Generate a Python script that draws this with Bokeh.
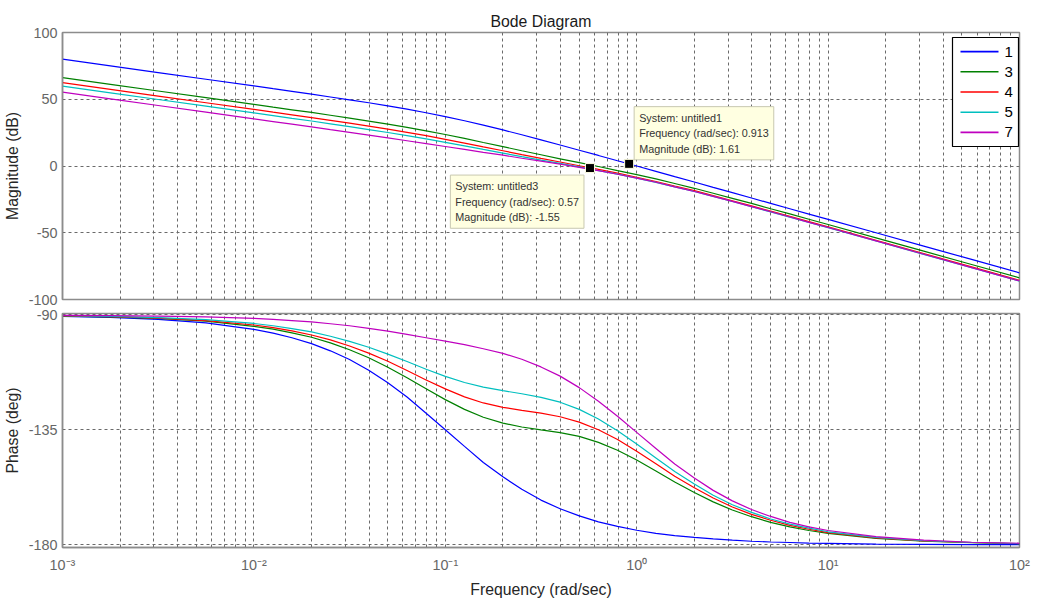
from bokeh.plotting import figure
from bokeh.layouts import column
from bokeh.models import (FixedTicker, CustomJSTickFormatter, Label, Range1d, Title,
                          BoxAnnotation)
from bokeh.embed import file_html
from bokeh.resources import INLINE

# ---------------- data ----------------
freq = [0.001, 0.00178, 0.00316, 0.00562, 0.01, 0.0126, 0.0158, 0.02, 0.0251, 0.0316,
        0.0398, 0.0501, 0.0631, 0.0794, 0.1, 0.126, 0.158, 0.2, 0.251, 0.316,
        0.398, 0.501, 0.631, 0.794, 1.0, 1.26, 1.58, 2.0, 2.51, 3.16,
        3.98, 5.01, 6.31, 7.94, 10.0, 17.8, 31.6, 56.2, 100.0]

series_names = ["1", "3", "4", "5", "7"]
series_colors = ["#0000FF", "#008000", "#FF0000", "#00BFBF", "#BF00BF"]

mag_1 = [80.0, 75.0, 70.0, 65.0, 60.0, 57.9, 55.9, 53.8, 51.7, 49.6, 47.4, 45.0, 42.6, 39.9,
         37.0, 33.9, 30.6, 27.0, 23.4, 19.6, 15.7, 11.8, 7.9, 3.9, 0.0, -4.0, -8.0, -12.0,
         -16.0, -20.0, -24.0, -28.0, -32.0, -36.0, -40.0, -50.0, -60.0, -70.0, -80.0]
mag_3 = [66.2, 61.2, 56.2, 51.2, 46.2, 44.1, 42.1, 40.1, 38.0, 35.8, 33.6, 31.3, 28.9, 26.3,
         23.6, 20.7, 17.6, 14.5, 11.4, 8.4, 5.4, 2.5, -0.4, -3.4, -6.4, -9.7, -13.1, -16.7,
         -20.4, -24.2, -28.0, -32.0, -35.9, -39.9, -43.8, -53.8, -63.8, -73.8, -83.8]
mag_4 = [62.4, 57.4, 52.4, 47.4, 42.4, 40.3, 38.3, 36.3, 34.2, 32.1, 29.9, 27.6, 25.2, 22.7,
         20.0, 17.2, 14.3, 11.4, 8.5, 5.7, 3.0, 0.2, -2.5, -5.4, -8.4, -11.6, -15.0, -18.5,
         -22.2, -26.0, -29.9, -33.8, -37.7, -41.7, -45.6, -55.6, -65.6, -75.6, -85.6]
mag_5 = [59.8, 54.8, 49.8, 44.8, 39.8, 37.8, 35.7, 33.7, 31.6, 29.5, 27.3, 25.1, 22.7, 20.3,
         17.7, 15.1, 12.4, 9.7, 7.0, 4.4, 1.9, -0.7, -3.4, -6.1, -9.1, -12.3, -15.6, -19.1,
         -22.8, -26.6, -30.5, -34.4, -38.3, -42.3, -46.2, -56.2, -66.2, -76.2, -86.2]
mag_7 = [55.3, 50.3, 45.3, 40.3, 35.3, 33.3, 31.3, 29.3, 27.2, 25.2, 23.1, 21.0, 18.9, 16.8,
         14.6, 12.4, 10.2, 8.1, 5.8, 3.6, 1.4, -1.0, -3.5, -6.2, -9.1, -12.2, -15.6, -19.1,
         -22.7, -26.5, -30.4, -34.3, -38.2, -42.2, -46.1, -56.1, -66.1, -76.1, -86.1]

phase_1 = [-90.6, -91.0, -91.8, -93.2, -95.7, -97.2, -99.0, -101.3, -104.1, -107.5, -111.7,
           -116.6, -122.2, -128.5, -135.0, -141.5, -147.8, -153.4, -158.3, -162.5, -165.9,
           -168.7, -171.0, -172.8, -174.3, -175.5, -176.4, -177.1, -177.7, -178.2, -178.6,
           -178.9, -179.1, -179.3, -179.4, -179.7, -179.8, -179.9, -179.9]
phase_3 = [-90.5, -90.8, -91.4, -92.5, -94.5, -95.6, -97.1, -98.8, -101.0, -103.7, -106.8,
           -110.5, -114.6, -118.9, -123.2, -127.0, -130.1, -132.4, -133.9, -135.0, -136.1,
           -137.6, -139.9, -143.0, -146.8, -151.1, -155.4, -159.5, -163.2, -166.4, -169.0,
           -171.2, -173.0, -174.4, -175.5, -177.5, -178.6, -179.2, -179.6]
phase_4 = [-90.4, -90.7, -91.3, -92.3, -94.0, -95.0, -96.3, -97.9, -99.8, -102.2, -105.0,
           -108.2, -111.8, -115.5, -119.0, -122.1, -124.5, -126.2, -127.4, -128.5, -129.9,
           -132.0, -135.0, -138.8, -143.4, -148.3, -153.2, -157.7, -161.7, -165.2, -168.1,
           -170.4, -172.4, -173.9, -175.2, -177.3, -178.5, -179.1, -179.5]
phase_5 = [-90.3, -90.6, -91.1, -91.9, -93.4, -94.3, -95.4, -96.7, -98.4, -100.4, -102.7,
           -105.4, -108.3, -111.3, -114.1, -116.5, -118.3, -119.7, -120.9, -122.3, -124.2,
           -127.0, -130.8, -135.4, -140.6, -146.0, -151.3, -156.2, -160.6, -164.3, -167.3,
           -169.9, -171.9, -173.5, -174.9, -177.1, -178.4, -179.1, -179.5]
phase_7 = [-90.2, -90.3, -90.5, -90.8, -91.4, -91.8, -92.3, -92.8, -93.5, -94.3, -95.3,
           -96.4, -97.7, -99.0, -100.3, -101.7, -103.3, -105.1, -107.4, -110.4, -114.0,
           -118.5, -123.8, -129.7, -136.0, -142.3, -148.4, -153.9, -158.7, -162.8, -166.2,
           -168.9, -171.2, -173.0, -174.4, -176.8, -178.2, -179.0, -179.4]

mags = [mag_1, mag_3, mag_4, mag_5, mag_7]
phases = [phase_1, phase_3, phase_4, phase_5, phase_7]

# data tips
tip_system = ["untitled1", "untitled3"]
tip_freq = [0.913, 0.57]
tip_mag = [1.61, -1.55]

decade_ticks = [1e-3, 1e-2, 1e-1, 1e0, 1e1, 1e2]
mag_ticks = [-100, -50, 0, 50, 100]
phase_ticks = [-180, -135, -90]

# ---------------- styling helpers ----------------
FONT = "Liberation Sans"
GRID_COLOR = "#6a6a6a"
BOX_COLOR = "#8c8c8c"
TICK_TEXT = "#666666"
minor = [m * d for d in decade_ticks[:-1] for m in range(2, 10)]

W = 1031
LEFT, RIGHT = 59, 12
FRAME_W = W - LEFT - RIGHT      # 960
FRAME_H1 = 267

plain_fmt = CustomJSTickFormatter(code="return String(tick);")


def style(p, yticks):
    p.background_fill_color = "white"
    p.border_fill_color = "white"
    p.outline_line_color = BOX_COLOR
    p.outline_line_width = 1.5
    p.xgrid.ticker = FixedTicker(ticks=decade_ticks, minor_ticks=minor)
    p.ygrid.ticker = FixedTicker(ticks=yticks)
    for g in (p.xgrid, p.ygrid):
        g.grid_line_color = GRID_COLOR
        g.grid_line_dash = "3 3"
        g.grid_line_width = 1
    p.xgrid.minor_grid_line_color = GRID_COLOR
    p.xgrid.minor_grid_line_dash = "3 3"
    p.xgrid.minor_grid_line_width = 1
    ax = p.yaxis[0]
    ax.ticker = FixedTicker(ticks=yticks)
    ax.formatter = plain_fmt
    ax.axis_line_color = BOX_COLOR
    ax.axis_line_width = 1.5
    ax.major_tick_in = 0
    ax.major_tick_out = 0
    ax.minor_tick_in = 0
    ax.minor_tick_out = 0
    ax.major_label_text_font = FONT
    ax.major_label_text_font_size = "14.4px"
    ax.major_label_text_color = TICK_TEXT
    ax.major_label_standoff = 5
    ax.axis_label_text_font = FONT
    ax.axis_label_text_font_size = "15.8px"
    ax.axis_label_text_font_style = "normal"
    ax.axis_label_text_color = "#262626"
    ax.axis_label_standoff = 5


# ---------------- magnitude plot ----------------
p1 = figure(width=W, height=306, x_axis_type="log",
            x_range=Range1d(1e-3, 1e2), y_range=Range1d(-100, 100),
            output_backend="svg", toolbar_location=None,
            min_border_left=LEFT, min_border_right=RIGHT,
            min_border_top=32, min_border_bottom=7)
p1.title = Title(text="Bode Diagram", align="center", text_font=FONT,
                 text_font_size="15.8px", text_font_style="normal",
                 text_color="#1a1a1a", standoff=6)
style(p1, mag_ticks)
p1.xaxis.visible = False
p1.yaxis.axis_label = "Magnitude (dB)"

for col, m in zip(series_colors, mags):
    p1.line(freq, m, line_color=col, line_width=1.2)

# data tips
anchors = ["bottom_left", "top_right"]
x_off = [5, -6]
y_off = [4, -7]
for sysname, f, m, anc, xo, yo in zip(tip_system, tip_freq, tip_mag, anchors, x_off, y_off):
    txt = f"System: {sysname}\nFrequency (rad/sec): {f:g}\nMagnitude (dB): {m:g}"
    p1.add_layout(Label(x=f, y=m, text=txt, anchor=anc, x_offset=xo, y_offset=yo,
                        text_font=FONT, text_font_size="10.8px", text_color="#333333",
                        text_line_height=1.3, padding=5,
                        background_fill_color="#FFFFE1", background_fill_alpha=1.0,
                        border_line_color="#c8c8b0", border_line_width=1))
p1.scatter(tip_freq, tip_mag, marker="square", size=9, fill_color="black",
           line_color="#ffffe1", line_width=1)

# legend (drawn in screen units, relative to the frame's bottom-left corner)
LG_RIGHT = FRAME_W - 4
LG_LEFT = LG_RIGHT - 66
LG_TOP = FRAME_H1 - 5
ROW_H = 20.2
LG_BOTTOM = LG_TOP - 4 - ROW_H * len(series_names) - 4
scr = dict(left_units="screen", right_units="screen", top_units="screen",
           bottom_units="screen")
p1.add_layout(BoxAnnotation(left=LG_LEFT, right=LG_RIGHT, bottom=LG_BOTTOM, top=LG_TOP,
                            fill_color="white", fill_alpha=1.0, line_color="black",
                            line_width=1.2, line_alpha=1.0, **scr))
for i, (name, col) in enumerate(zip(series_names, series_colors)):
    yc = LG_TOP - 4 - ROW_H * (i + 0.5)
    p1.add_layout(BoxAnnotation(left=LG_LEFT + 8, right=LG_LEFT + 46,
                                bottom=yc - 0.8, top=yc + 0.8,
                                fill_color=col, fill_alpha=1.0, line_color=None, **scr))
    p1.add_layout(Label(x=LG_LEFT + 52, y=yc, x_units="screen", y_units="screen",
                        text=name, text_font=FONT, text_font_size="15px",
                        text_color="black", text_baseline="middle", text_align="left"))

# ---------------- phase plot ----------------
p2 = figure(width=W, height=294, x_axis_type="log",
            x_range=p1.x_range, y_range=Range1d(-181.05, -89.5),
            output_backend="svg", toolbar_location=None,
            min_border_left=LEFT, min_border_right=RIGHT,
            min_border_top=7, min_border_bottom=51)
style(p2, phase_ticks)
p2.yaxis.axis_label = "Phase (deg)"
xa = p2.xaxis[0]
xa.ticker = FixedTicker(ticks=decade_ticks, minor_ticks=minor)
xa.formatter = CustomJSTickFormatter(code="""
const e = Math.round(Math.log10(tick));
const sup = {"-": "\\u207b", "0": "\\u2070", "1": "\\u00b9", "2": "\\u00b2", "3": "\\u00b3"};
return "10" + String(e).split("").map(c => sup[c]).join("");
""")
xa.axis_line_color = BOX_COLOR
xa.axis_line_width = 1.5
xa.major_tick_in = 0
xa.major_tick_out = 0
xa.minor_tick_in = 0
xa.minor_tick_out = 0
xa.major_label_text_font = FONT
xa.major_label_text_font_size = "14.4px"
xa.major_label_text_color = TICK_TEXT
xa.major_label_standoff = 9
xa.axis_label = "Frequency (rad/sec)"
xa.axis_label_text_font = FONT
xa.axis_label_text_font_size = "15.8px"
xa.axis_label_text_font_style = "normal"
xa.axis_label_text_color = "#262626"
xa.axis_label_standoff = 5

for col, ph in zip(series_colors, phases):
    p2.line(freq, ph, line_color=col, line_width=1.2)

layout = column(p1, p2, spacing=0)
open("out.html", "w").write(file_html(layout, INLINE))
